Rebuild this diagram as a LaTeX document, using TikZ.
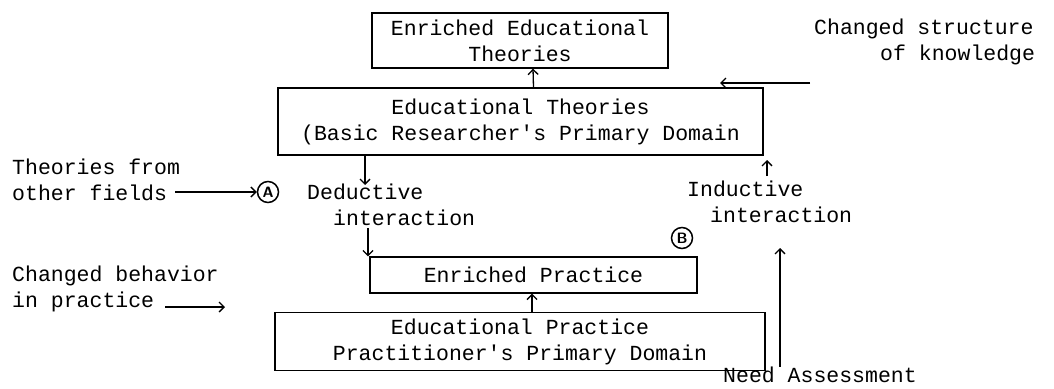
\documentclass[tikz,border=0pt]{standalone}
\usepackage{fontspec}
\setmonofont{Liberation Mono}
\usetikzlibrary{arrows.meta}
\begin{document}
\begin{tikzpicture}[x=1pt,y=-1pt,
  tw/.style={font=\ttfamily\fontsize{21.5}{26}\selectfont, inner sep=0pt},
  box/.style={tw, draw, line width=1.3pt, align=center},
  lbl/.style={tw, anchor=west, align=left},
  arr/.style={line width=1.3pt, -{Straight Barb[length=5pt,width=10pt,line width=1.3pt]}},
  circ/.style={draw, circle, line width=1.5pt, inner sep=0pt, minimum size=21pt, font=\sffamily\bfseries\fontsize{15}{15}\selectfont}
]
\useasboundingbox (0,0) rectangle (1054,388);
% boxes
\node[box, minimum width=296pt, minimum height=55pt] (eet) at (520,40.5) {Enriched Educational\\Theories};
\node[box, minimum width=485pt, minimum height=67pt] (et) at (520.5,121.5) {Educational Theories\\(Basic Researcher's Primary Domain};
\node[box, minimum width=327pt, minimum height=36pt] (ep) at (533.5,275) {Enriched Practice};
\node[box, minimum width=490pt, minimum height=58pt] (edp) at (520,341.5) {Educational Practice\\Practitioner's Primary Domain};
% labels
\node[lbl] (tf) at (12,180) {Theories from\\other fields};
\node[lbl] (cb) at (12,289) {Changed behavior\\in practice};
\node[lbl] (ded) at (307,205) {\hspace*{0pt}Deductive\\\hspace*{26pt}interaction};
\node[lbl] (ind) at (687,202) {Inductive\\\hspace*{23pt}interaction};
\node[lbl] (cs) at (814,42) {Changed structure\\\hspace*{66pt}of knowledge};
\node[tw, anchor=west] (na) at (723,375) {Need Assessment};
\node[circ] (A) at (268,192) {A};
\node[circ] (B) at (682,238) {B};
% coordinates
\coordinate (tfe) at (175,192);
\coordinate (cbe) at (165,307);
\coordinate (cbt) at (225,307);
\coordinate (cse) at (810,83);
\coordinate (cst) at (720,83);
\coordinate (dedtop) at (365,185);
\coordinate (dedbot) at (368,228);
\coordinate (indtop) at (767,160);
\coordinate (indbot) at (767,176);
\coordinate (natop) at (780,248);
% connectors
\draw[arr] ([xshift=13pt]et.north) -- ([xshift=13pt]eet.south);
\draw[arr] ([xshift=12pt]edp.north) -- (ep.south -| 532,0);
\draw[arr] (et.south -| dedtop) -- (dedtop);
\draw[arr] (dedbot) -- (ep.north west -| dedbot);
\draw[arr] (indbot) -- (indtop);
\draw[arr] (na.north -| natop) -- (natop);
\draw[arr] (tfe) -- (A.west);
\draw[arr] (cbe) -- (cbt);
\draw[arr] (cse) -- (cst);
\end{tikzpicture}
\end{document}
